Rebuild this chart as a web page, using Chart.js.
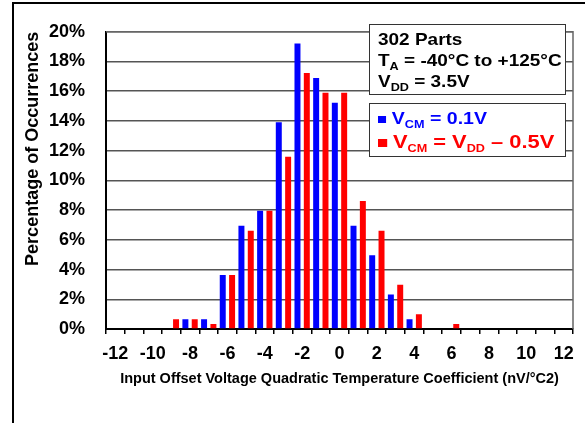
<!DOCTYPE html>
<html>
<head>
<meta charset="utf-8">
<script src="https://cdn.jsdelivr.net/npm/chart.js@4"></script>
<style>
  html, body { margin: 0; padding: 0; background: #fff; }
  #wrap { position: relative; width: 585px; height: 423px; overflow: hidden; }
  #frame { position: absolute; left: 12px; top: 2px; right: -10px; bottom: -10px;
           border-top: 2px solid #000; border-left: 2px solid #000; pointer-events: none; }
  .box { position: absolute; left: 369px; width: 197px; background: #fff;
         border: 1.5px solid #333; font-family: 'Liberation Sans', Arial, sans-serif;
         font-weight: bold; white-space: nowrap; }
  .line { transform: scaleX(1.15); transform-origin: left center; }
  sub { font-size: 11px; vertical-align: -4px; line-height: 0; }
  .sq { display: inline-block; width: 7px; height: 7px; margin-right: 5px; vertical-align: 1px; }
</style>
</head>
<body>
<div id="wrap">
  <canvas id="histChart" width="585" height="423"></canvas>
  <div id="frame"></div>
  <div class="box" style="top:24px;height:71px;padding:4px 0 0 8px;box-sizing:border-box;font-size:16.5px;line-height:21px;color:#000">
    <div class="line">302 Parts</div>
    <div class="line">T<sub>A</sub> = -40°C to +125°C</div>
    <div class="line">V<sub>DD</sub> = 3.5V</div>
  </div>
  <div class="box" style="top:103px;height:54px;padding:3px 0 0 8px;box-sizing:border-box;line-height:23px">
    <div class="line" style="color:#0000ff;font-size:17px"><span class="sq" style="background:#0000ff"></span>V<sub>CM</sub> = 0.1V</div>
    <div class="line" style="color:#ff0000;font-size:19px"><span class="sq" style="background:#ff0000;width:8px;height:8px"></span>V<sub>CM</sub> = V<sub>DD</sub> – 0.5V</div>
  </div>
</div>
<script>
const bins = [-12, -11, -10, -9, -8, -7, -6, -5, -4, -3, -2, -1, 0, 1, 2, 3, 4, 5, 6, 7, 8, 9, 10, 11, 12];
const vcmLow = [0, 0, 0, 0, 0.66, 0.66, 3.64, 6.95, 7.95, 13.91, 19.21, 16.89, 15.23, 6.95, 4.97, 2.32, 0.66, 0, 0, 0, 0, 0, 0, 0, 0];
const vcmHigh = [0, 0, 0, 0.66, 0.66, 0.33, 3.64, 6.62, 7.95, 11.59, 17.22, 15.89, 15.89, 8.61, 6.62, 2.98, 0.99, 0, 0.33, 0, 0, 0, 0, 0, 0];
const yTicks = [0, 2, 4, 6, 8, 10, 12, 14, 16, 18, 20];

const fontFamily = "'Liberation Sans', Arial, sans-serif";

const plotFrame = {
  id: 'plotFrame',
  afterDraw(chart) {
    const { ctx, chartArea: a } = chart;
    ctx.save();
    ctx.strokeStyle = '#666';
    ctx.lineWidth = 1.5;
    ctx.beginPath();
    ctx.moveTo(a.left, a.top);
    ctx.lineTo(a.right, a.top);
    ctx.lineTo(a.right, a.bottom);
    ctx.stroke();
    ctx.restore();
  }
};

new Chart(document.getElementById('histChart'), {
  type: 'bar',
  data: {
    labels: bins,
    datasets: [
      { label: 'VCM = 0.1V', data: vcmLow, backgroundColor: '#0000ff' },
      { label: 'VCM = VDD - 0.5V', data: vcmHigh, backgroundColor: '#ff0000' }
    ]
  },
  options: {
    responsive: false,
    animation: false,
    events: [],
    layout: { padding: { top: 20, right: 12, left: 0, bottom: 0 } },
    datasets: { bar: { barPercentage: 0.64, categoryPercentage: 1.0 } },
    plugins: { legend: { display: false }, tooltip: { enabled: false } },
    scales: {
      x: {
        afterFit: s => { s.height = 94; },
        grid: { drawOnChartArea: false, drawTicks: true, tickLength: 5, color: '#000', lineWidth: 1.5, offset: true },
        border: { color: '#000', width: 2 },
        ticks: {
          autoSkip: false, maxRotation: 0, padding: 9, color: '#000',
          font: { family: fontFamily, size: 18, weight: 'bold' },
          callback: function (v) { const l = this.getLabelForValue(v); return l % 2 === 0 ? String(l) : ''; }
        },
        title: {
          display: true, text: 'Input Offset Voltage Quadratic Temperature Coefficient (nV/°C2)',
          color: '#000', font: { family: fontFamily, size: 14.5, weight: 'bold' }, padding: { top: 0, bottom: 35 }
        }
      },
      y: {
        min: 0, max: 20,
        afterFit: s => { s.width = 106; },
        afterBuildTicks: s => { s.ticks = yTicks.map(v => ({ value: v })); },
        grid: { drawTicks: false, color: '#555', lineWidth: 1.5 },
        border: { color: '#000', width: 2 },
        ticks: {
          padding: 21, color: '#000',
          font: { family: fontFamily, size: 18, weight: 'bold' },
          callback: v => v + '%'
        },
        title: {
          display: true, text: 'Percentage of Occurrences', align: 'end',
          color: '#000', font: { family: fontFamily, size: 18, weight: 'bold' }, padding: { top: 22, bottom: 0 }
        }
      }
    }
  },
  plugins: [plotFrame]
});
</script>
</body>
</html>
